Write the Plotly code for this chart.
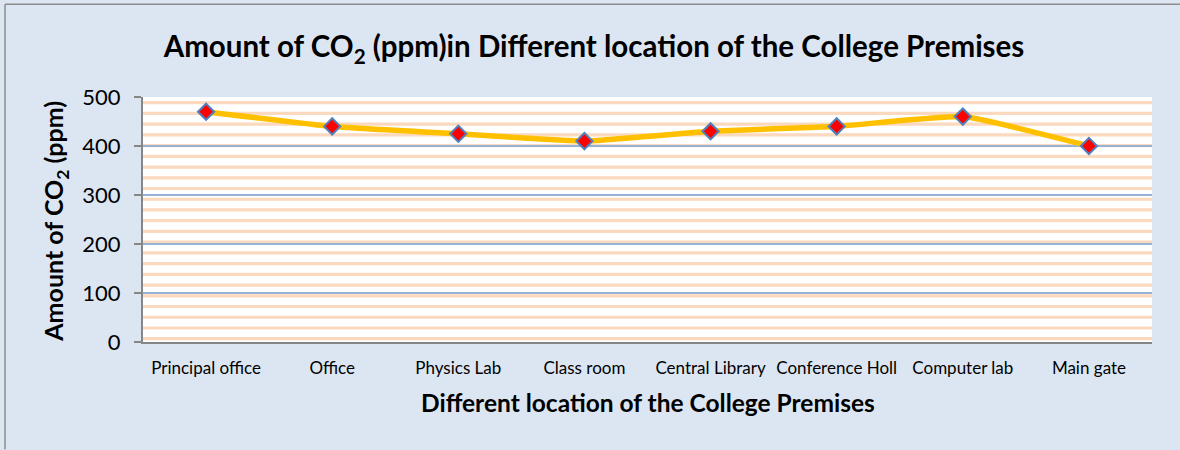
import plotly.graph_objects as go

categories = ["Principal office", "Office", "Physics Lab", "Class room",
              "Central Library", "Conference Holl", "Computer lab", "Main gate"]
co2_ppm = [470, 440, 425, 410, 430, 440, 460, 400]
y_ticks = [0, 100, 200, 300, 400, 500]

FONT = "Lato"
W, H = 1180, 450
L, R, T, B = 143, 28, 97, 107.5
PW, PH = W - L - R, H - T - B


def px_x(x):
    return (x - L) / PW


def px_y(y):
    return 1 - (y - T) / PH


fig = go.Figure()
fig.add_trace(go.Scatter(
    x=categories, y=co2_ppm, mode="lines+markers",
    line=dict(color="#FFC000", width=5.5, shape="spline", smoothing=0.4),
    marker=dict(symbol="diamond", size=12.5, color="#FF0000",
                line=dict(color="#4F81BD", width=2)),
    showlegend=False,
))

shapes = []
# Decorative horizontal stripe pattern of the plot area
for k in range(23):
    yp = 102.7 + k * 10.75
    shapes.append(dict(type="line", xref="paper", yref="paper",
                       x0=0, x1=1, y0=px_y(yp), y1=px_y(yp),
                       line=dict(color="#FBD9BE", width=3.2), layer="below"))
# outer chart border (left and top edges only are visible)
shapes.append(dict(type="line", xref="paper", yref="paper",
                   x0=px_x(5), x1=px_x(5), y0=px_y(450), y1=px_y(4),
                   line=dict(color="#8C8C8C", width=1.5), layer="below"))
shapes.append(dict(type="line", xref="paper", yref="paper",
                   x0=px_x(5), x1=px_x(1180), y0=px_y(4), y1=px_y(4),
                   line=dict(color="#8C8C8C", width=1.5), layer="below"))

fig.update_layout(
    width=W, height=H,
    margin=dict(l=L, r=R, t=T, b=B),
    paper_bgcolor="#DCE6F2",
    plot_bgcolor="#FFFFFF",
    font=dict(family=FONT, color="#000000"),
    title=dict(text="<b>Amount of CO<sub>2</sub> (ppm)in Different location of the College Premises</b>",
               x=594 / W, xref="container", xanchor="center",
               y=1 - 47 / H, yref="container", yanchor="middle",
               font=dict(size=29.5, family=FONT, color="#000000")),
    shapes=shapes,
    annotations=[
        dict(text="<b>Amount of CO<sub>2</sub> (ppm)</b>", xref="paper", yref="paper",
             x=px_x(55), y=px_y(222), textangle=-90, showarrow=False,
             xanchor="center", yanchor="middle",
             font=dict(size=25, family=FONT, color="#000000")),
        dict(text="<b>Different location of the College Premises</b>", xref="paper", yref="paper",
             x=0.5, y=px_y(403), showarrow=False, xanchor="center", yanchor="middle",
             font=dict(size=24.5, family=FONT, color="#000000")),
    ],
)

fig.update_xaxes(
    type="category", range=[-0.5, len(categories) - 0.5],
    showgrid=False, showline=True, linecolor="#868686", linewidth=2,
    ticks="", tickfont=dict(size=17, family=FONT, color="#000000"),
    ticklabelstandoff=10,
    zeroline=False,
)
fig.update_yaxes(
    range=[0, 500], tickvals=y_ticks, ticktext=[str(v) for v in y_ticks],
    showgrid=True, gridcolor="#95B3D7", gridwidth=2,
    showline=True, linecolor="#868686", linewidth=2,
    ticks="outside", ticklen=7, tickcolor="#868686", tickwidth=2,
    tickfont=dict(size=22, family=FONT, color="#000000"),
    ticklabelstandoff=9,
    zeroline=False,
)

fig.write_html("out.html", config={"displayModeBar": False},
               post_script="document.body.style.margin='0';"
                           "document.body.style.overflow='hidden';"
                           "document.documentElement.style.overflow='hidden';")
